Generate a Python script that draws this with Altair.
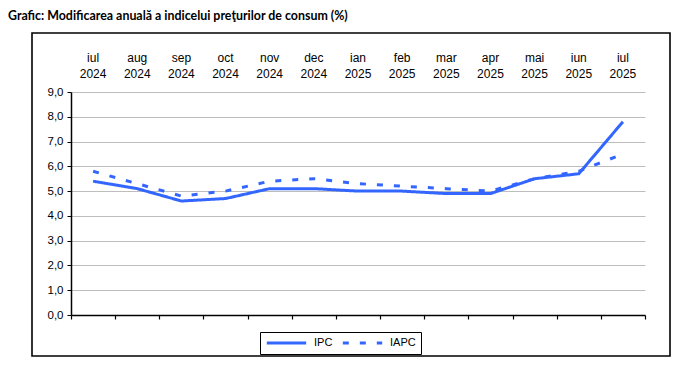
import altair as alt
import pandas as pd

months = ["iul 2024", "aug 2024", "sep 2024", "oct 2024", "nov 2024", "dec 2024",
          "ian 2025", "feb 2025", "mar 2025", "apr 2025", "mai 2025", "iun 2025", "iul 2025"]
ipc = [5.4, 5.1, 4.6, 4.7, 5.1, 5.1, 5.0, 5.0, 4.9, 4.9, 5.5, 5.7, 7.8]
iapc = [5.8, 5.3, 4.8, 5.0, 5.4, 5.5, 5.3, 5.2, 5.1, 5.0, 5.5, 5.8, 6.5]
series = ["IPC", "IAPC"]
y_ticks = [0, 1, 2, 3, 4, 5, 6, 7, 8, 9]
title_text = "Grafic: Modificarea anuală a indicelui preţurilor de consum (%)"

rows = []
for i, m in enumerate(months):
    rows.append({"luna": m, "serie": "IPC", "valoare": ipc[i]})
    rows.append({"luna": m, "serie": "IAPC", "valoare": iapc[i]})
df = pd.DataFrame(rows)

BLUE = "#3366FF"
FONT = "Liberation Sans"
xscale = alt.Scale(type="band", domain=months, paddingInner=0, paddingOuter=0)

frame = alt.Chart(alt.Data(values=[{}])).mark_rect(
    fill="white", fillOpacity=0, stroke="black", strokeWidth=1.6
).encode(x=alt.value(-39), x2=alt.value(599), y=alt.value(-59), y2=alt.value(264))

lines = alt.Chart(df).mark_line(color=BLUE, strokeWidth=3).encode(
    x=alt.X("luna:N", scale=xscale, bandPosition=0.5,
            axis=alt.Axis(orient="bottom", title=None, labels=False, grid=False,
                          domainColor="black", domainWidth=1.5, tickColor="black",
                          tickWidth=1.2, tickSize=4, tickBand="extent")),
    y=alt.Y("valoare:Q", scale=alt.Scale(domain=[0, 9], nice=False),
            axis=alt.Axis(title=None, values=y_ticks,
                          labelExpr="replace(format(datum.value, '.1f'), '.', ',')",
                          grid=True, gridColor="#bdbdbd", gridWidth=1,
                          domainColor="black", domainWidth=1.5, tickColor="black",
                          tickSize=4, labelFont=FONT, labelFontSize=11.5,
                          labelColor="black", labelPadding=4)),
    strokeDash=alt.StrokeDash(
        "serie:N",
        scale=alt.Scale(domain=series, range=[[1, 0], [6, 11]]),
        legend=alt.Legend(title=None, orient="none", legendX=189, legendY=240,
                          direction="horizontal", strokeColor="black", padding=5,
                          fillColor="white", symbolType="stroke", symbolSize=1550,
                          symbolStrokeWidth=3, symbolStrokeColor=BLUE, clipHeight=12,
                          labelFont=FONT, labelFontSize=11, labelColor="black",
                          columnPadding=8, labelOffset=6)),
)

top_axis = alt.Chart(df).mark_point(opacity=0).encode(
    x=alt.X("luna:N", scale=xscale, bandPosition=0.5,
            axis=alt.Axis(orient="top", title=None, domain=False, ticks=False, grid=False,
                          labelExpr="split(datum.label, ' ')", labelFont=FONT,
                          labelFontSize=12, labelLineHeight=16, labelPadding=28,
                          labelColor="black", labelAngle=0, labelOverlap=False)),
)

title = alt.Chart(alt.Data(values=[{}])).mark_text(
    text=title_text, font="Lato", fontWeight="bold", fontSize=12.4,
    align="left", baseline="alphabetic", color="black"
).encode(x=alt.value(-63), y=alt.value(-72))

chart = alt.layer(frame, lines, top_axis, title).resolve_axis(x="independent").properties(
    width=574, height=223,
    autosize=alt.AutoSizeParams(type="none"),
    padding={"left": 63, "top": 84, "right": 27, "bottom": 43},
    background="white",
).configure_view(stroke=None)

chart.save("out.html", embed_options={"renderer": "svg", "actions": False})
